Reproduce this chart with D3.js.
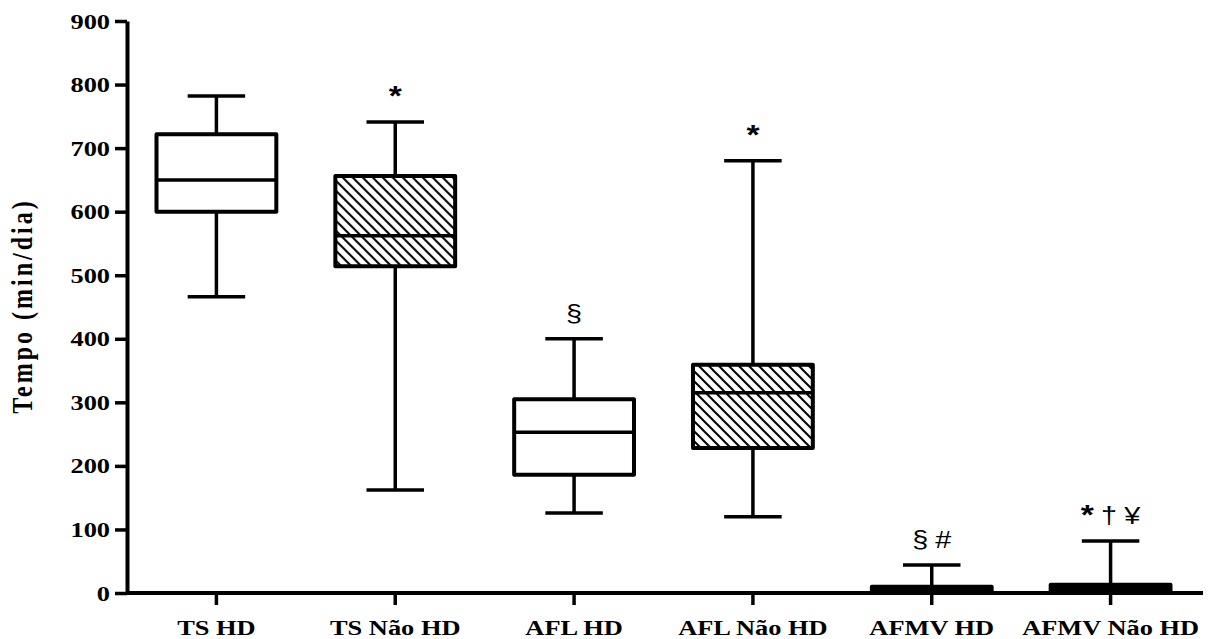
<!DOCTYPE html>
<html>
<head>
<meta charset="utf-8">
<script src="https://cdn.jsdelivr.net/npm/d3@7"></script>
<style>
  body { margin: 0; background: #fff; }
  svg { display: block; }
</style>
</head>
<body>
<script>
// categories and box statistics (min/dia)
const categories = ["TS HD", "TS Não HD", "AFL HD", "AFL Não HD", "AFMV HD", "AFMV Não HD"];
const minVals    = [466, 162, 126, 120, 0, 0];
const q1Vals     = [600, 514, 186, 228, 0, 0];
const medianVals = [650, 562, 253, 315, 4, 6];
const q3Vals     = [722, 656, 305, 359, 10, 13];
const maxVals    = [782, 741, 400, 680, 44, 82];
const hatched    = [false, true, false, true, false, true];
const markers    = [[], ["*"], ["§"], ["*"], ["§", "#"], ["*", "†", "¥"]];
const yTicks     = [0, 100, 200, 300, 400, 500, 600, 700, 800, 900];

const W = 1209, H = 639;
const margin = {top: 21, right: 9, bottom: 46, left: 127};
const stretch = 1.2; // the original figure is a bit wider than tall

const data = categories.map((c, i) => ({
  name: c, min: minVals[i], q1: q1Vals[i], med: medianVals[i],
  q3: q3Vals[i], max: maxVals[i], hatch: hatched[i], mark: markers[i]
}));

let svg = d3.select("body").append("svg")
  .attr("width", W).attr("height", H);

// hatch pattern
svg.append("defs").append("pattern")
  .attr("id", "hatch")
  .attr("patternUnits", "userSpaceOnUse")
  .attr("width", 10).attr("height", 10)
  .append("path")
  .attr("d", "M-2,-2 L12,12 M-2,8 L2,12 M8,-2 L12,2")
  .attr("stroke", "#000").attr("stroke-width", 2);

let x = d3.scaleBand()
  .domain(categories)
  .range([margin.left, W - margin.right])
  .paddingInner(0.33).paddingOuter(0.165);

let y = d3.scaleLinear()
  .domain([0, 900])
  .range([H - margin.bottom, margin.top]);

const font = "'Liberation Serif', 'Times New Roman', serif";

// Y axis
let yAxis = svg.append("g")
  .attr("transform", "translate(" + margin.left + ",0)")
  .call(d3.axisLeft(y).tickValues(yTicks).tickSize(12).tickSizeOuter(0));
yAxis.select(".domain").attr("stroke-width", 4);
yAxis.selectAll(".tick line").attr("stroke-width", 3.5);
yAxis.selectAll("text")
  .attr("x", -17 / stretch)
  .attr("transform", "scale(" + stretch + ",1)")
  .style("font-family", font).style("font-weight", "bold").style("font-size", "22px")
  .attr("fill", "#000");

// X axis
let xAxis = svg.append("g")
  .attr("transform", "translate(0," + y(0) + ")")
  .call(d3.axisBottom(x).tickSize(12).tickPadding(14).tickSizeOuter(0));
xAxis.select(".domain").attr("stroke-width", 4)
  .attr("d", "M" + margin.left + ",0H" + (W - 6));
xAxis.selectAll(".tick line").attr("stroke-width", 3.5);
xAxis.selectAll("text")
  .attr("transform", "scale(" + stretch + ",1)")
  .style("font-family", font).style("font-weight", "bold").style("font-size", "22px")
  .attr("fill", "#000");

// Y title
svg.append("text")
  .attr("transform", "translate(32," + ((y(0) + y(900)) / 2 - 1) + ") rotate(-90) scale(1," + stretch + ")")
  .attr("text-anchor", "middle")
  .style("font-family", font).style("font-weight", "bold").style("font-size", "24px")
  .style("letter-spacing", "3px")
  .text("Tempo (min/dia)");

const bw = x.bandwidth();
const capW = bw * 0.48;

let boxes = svg.selectAll("g.box").data(data).enter().append("g").attr("class", "box")
  .attr("transform", d => "translate(" + (x(d.name) + bw / 2) + ",0)");

// whiskers
boxes.append("line")
  .attr("x1", 0).attr("x2", 0)
  .attr("y1", d => y(d.max)).attr("y2", d => y(d.q3))
  .attr("stroke", "#000").attr("stroke-width", 3.5);
boxes.append("line")
  .attr("x1", 0).attr("x2", 0)
  .attr("y1", d => y(d.q1)).attr("y2", d => y(d.min))
  .attr("stroke", "#000").attr("stroke-width", 3.5);
boxes.append("line")
  .attr("x1", -capW / 2).attr("x2", capW / 2)
  .attr("y1", d => y(d.max)).attr("y2", d => y(d.max))
  .attr("stroke", "#000").attr("stroke-width", 3.5);
boxes.append("line")
  .attr("x1", -capW / 2).attr("x2", capW / 2)
  .attr("y1", d => y(d.min)).attr("y2", d => y(d.min))
  .attr("stroke", "#000").attr("stroke-width", 3.5);

// box (very flat boxes render as solid black, as in the original)
boxes.append("rect")
  .attr("x", -bw / 2).attr("width", bw)
  .attr("y", d => y(d.q3)).attr("height", d => y(d.q1) - y(d.q3))
  .attr("fill", d => (y(d.q1) - y(d.q3)) < 12 ? "#000" : (d.hatch ? "url(#hatch)" : "#fff"))
  .attr("stroke", "#000").attr("stroke-width", 4).attr("stroke-linejoin", "round");

// median
boxes.append("line")
  .attr("x1", -bw / 2).attr("x2", bw / 2)
  .attr("y1", d => y(d.med)).attr("y2", d => y(d.med))
  .attr("stroke", "#000").attr("stroke-width", 3.5);

// significance markers
let marks = boxes.append("text")
  .attr("transform", d => "translate(0," + (y(d.max) - 17) + ") scale(" + stretch + ",1)")
  .attr("text-anchor", "middle")
  .style("font-family", "'Liberation Sans', Arial, sans-serif")
  .style("font-size", "24px")
  .attr("fill", "#000");
marks.selectAll("tspan")
  .data(d => d.mark)
  .enter().append("tspan")
  .attr("dx", (m, i) => i ? 6 : 0)
  .style("font-weight", m => m === "*" ? "bold" : "normal")
  .style("font-size", m => m === "*" ? "28px" : "24px")
  .text(m => m);
</script>
</body>
</html>
